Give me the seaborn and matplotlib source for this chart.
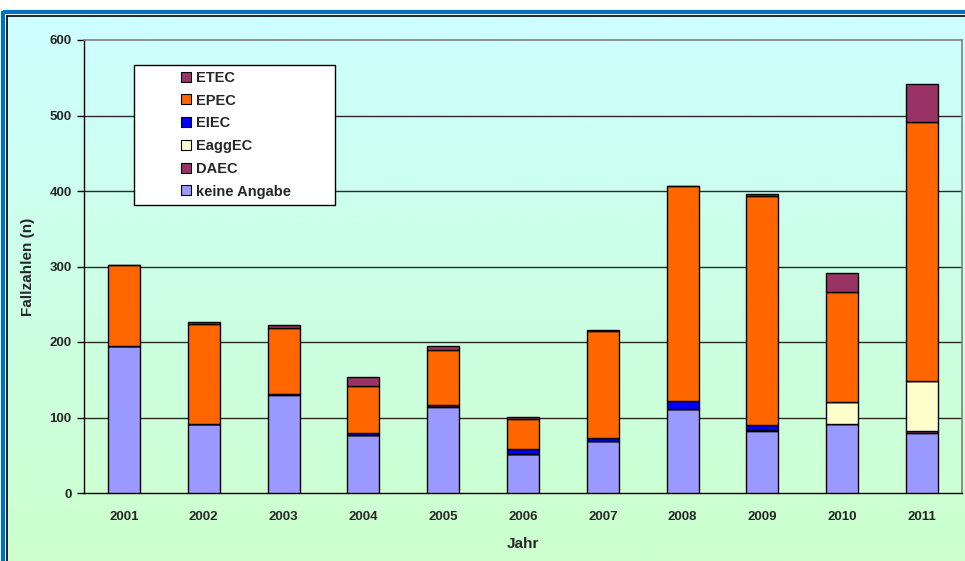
import numpy as np
import pandas as pd
import matplotlib
matplotlib.use("Agg")
import matplotlib.pyplot as plt
from matplotlib.patches import Rectangle
from matplotlib.lines import Line2D
import seaborn as sns

years = ["2001", "2002", "2003", "2004", "2005", "2006", "2007", "2008", "2009", "2010", "2011"]
keine_angabe = [195, 92, 130, 77, 114, 52, 69, 111, 82, 91, 80]
daec = [0, 0, 1, 0, 2, 0, 0, 0, 1, 1, 2]
eaggec = [0, 0, 0, 0, 0, 0, 0, 0, 0, 28, 67]
eiec = [0, 0, 0, 3, 0, 6, 4, 11, 7, 0, 0]
epec = [107, 132, 88, 62, 73, 40, 141, 284, 303, 146, 343]
etec = [0, 2, 3, 12, 6, 3, 2, 1, 3, 25, 50]

series_names = ["keine Angabe", "DAEC", "EaggEC", "EIEC", "EPEC", "ETEC"]
series_vals = [keine_angabe, daec, eaggec, eiec, epec, etec]
series_colors = ["#9999FF", "#993366", "#FFFFCC", "#0000FF", "#FF6600", "#993366"]

yticks = [0, 100, 200, 300, 400, 500, 600]

sns.set_theme(style="white")
plt.rcParams["font.family"] = ["Liberation Sans", "DejaVu Sans"]
plt.rcParams["font.weight"] = "bold"

W, H = 965, 561
fig = plt.figure(figsize=(W / 100, H / 100), dpi=100)
fig.patch.set_facecolor("white")

# background frame with gradient
bg = fig.add_axes([0, 0, 1, 1])
bg.set_xlim(0, W)
bg.set_ylim(H, 0)
bg.axis("off")
grad = np.linspace(0, 1, 256).reshape(-1, 1)
c_top = np.array([0xCC, 0xFF, 0xFF]) / 255
c_bot = np.array([0xCC, 0xFF, 0xCC]) / 255
img = c_top[None, None, :] * (1 - grad[:, :, None]) + c_bot[None, None, :] * grad[:, :, None]
bg.imshow(img, extent=[7, W + 5, H + 5, 16], aspect="auto", zorder=0)
bg.plot([3, 3], [H, 11], color="#0070C0", lw=3, solid_capstyle="butt", zorder=1)
bg.plot([3, W], [11.5, 11.5], color="#0070C0", lw=3, solid_capstyle="butt", zorder=1)
bg.plot([7, 7], [H, 16], color="black", lw=1.2, zorder=2)
bg.plot([7, W], [16, 16], color="black", lw=1.2, zorder=2)
bg.set_xlim(0, W)
bg.set_ylim(H, 0)

# main axes
left, right, top, bottom = 84, 962, 40, 493
ax = fig.add_axes([left / W, 1 - bottom / H, (right - left) / W, (bottom - top) / H])
ax.set_facecolor("none")

df = pd.DataFrame({"Jahr": years})
cum = np.zeros(len(years))
for name, vals, col in zip(series_names, series_vals, series_colors):
    v = np.array(vals, dtype=float)
    df[name] = v
    sns.barplot(data=df, x="Jahr", y=name, color=col, saturation=1, width=0.4, bottom=cum,
                edgecolor="black", linewidth=1.0, ax=ax, zorder=3, order=years)
    cum = cum + v

ax.set_ylim(0, 600)
ax.set_xlim(-0.5, len(years) - 0.5)
ax.set_yticks(yticks)
ax.set_yticklabels([str(t) for t in yticks], fontsize=9.5, fontweight="bold")
ax.set_xticks(range(len(years)))
ax.set_xticklabels(years, fontsize=9.5, fontweight="bold")
ax.set_xticks(np.arange(-0.5, len(years), 1.0), minor=True)
ax.tick_params(axis="x", which="major", length=0, pad=13)
ax.tick_params(axis="x", which="minor", length=5, width=1, color="black", direction="out")
ax.tick_params(axis="y", length=5, width=1, color="black", direction="out", left=True, pad=4)
for t in yticks[1:-1]:
    ax.axhline(t, color="#2a2a2a", lw=1.0, zorder=1)
for s in ["top", "right"]:
    ax.spines[s].set_color("#808080")
    ax.spines[s].set_linewidth(1.2)
for s in ["left", "bottom"]:
    ax.spines[s].set_color("black")
    ax.spines[s].set_linewidth(1.0)
ax.set_ylabel("Fallzahlen (n)", fontsize=11, fontweight="bold", labelpad=10)
ax.set_xlabel("Jahr", fontsize=11, fontweight="bold", labelpad=10)

# legend box (above the main axes)
box = Rectangle((134 / W, 1 - 205 / H), 201 / W, 140 / H, transform=fig.transFigure,
                facecolor="white", edgecolor="black", lw=1, zorder=20)
fig.patches.append(box)
handles = [Line2D([0], [0], marker="s", linestyle="none", markersize=7.5,
                  markerfacecolor=c, markeredgecolor="black", markeredgewidth=0.8)
           for c in series_colors[::-1]]
leg = fig.legend(handles, series_names[::-1], loc="upper left",
                 bbox_to_anchor=(171 / W, 1 - 65 / H), frameon=False,
                 prop={"size": 10.5, "weight": "bold"}, labelspacing=0.6,
                 handletextpad=0.1, handlelength=1.2, borderaxespad=0)
leg.set_zorder(30)

fig.savefig("out.png", dpi=100)
